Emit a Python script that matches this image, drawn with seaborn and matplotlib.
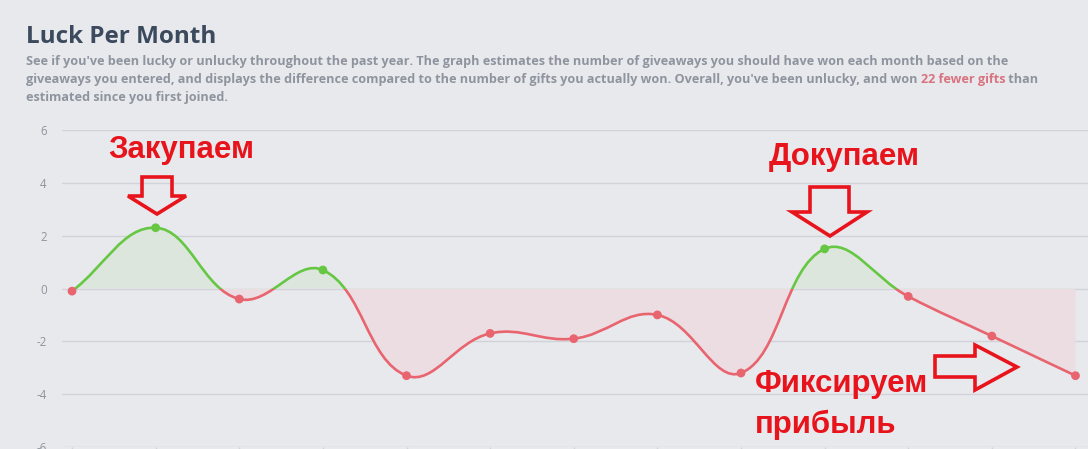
import numpy as np
import pandas as pd
import matplotlib
matplotlib.use("Agg")
import matplotlib.pyplot as plt
from matplotlib.path import Path
from matplotlib.patches import PathPatch, Rectangle, Polygon
import seaborn as sns

# ---------------- data ----------------
luck = [-0.1, 2.3, -0.4, 0.7, -3.3, -1.7, -1.9, -1.0, -3.2, 1.5, -0.3, -1.8, -3.3]
y_ticks = [-6, -4, -2, 0, 2, 4, 6]

title = "Luck Per Month"
sub_line1 = ("See if you've been lucky or unlucky throughout the past year. The graph estimates "
             "the number of giveaways you should have won each month based on the")
sub_line2a = ("giveaways you entered, and displays the difference compared to the number of gifts "
              "you actually won. Overall, you've been unlucky, and won ")
sub_line2b = "22 fewer gifts"
sub_line2c = " than"
sub_line3 = "estimated since you first joined."

note_buy = "Закупаем"
note_add = "Докупаем"
note_fix1 = "Фиксируем"
note_fix2 = "прибыль"

# ---------------- style ----------------
BG = "#e8e9ed"
GRID = "#d1d3d9"
GREEN = "#66c743"
RED = "#e8646f"
GREEN_FILL = "#dde6dc"
RED_FILL = "#ebdde2"
ANN = "#e8141c"

sns.set_theme(style="white", rc={"figure.facecolor": BG, "axes.facecolor": BG})
plt.rcParams["font.family"] = ["Open Sans", "DejaVu Sans"]

W, H = 1088, 449
fig = plt.figure(figsize=(W / 100, H / 100), dpi=100)

def fx(px):
    return px / W

def fy(py):
    return 1 - py / H

ax = fig.add_axes([fx(62), fy(447), fx(1088) - fx(62), fy(130) - fy(447)])
ax.set_facecolor(BG)
x = np.arange(len(luck))
y = np.array(luck)
ax.set_xlim(-0.12, 12.15)
ax.set_ylim(-6, 6)

# smooth line (Chart.js-style bezier, tension 0.4) computed in display space
pts = ax.transData.transform(np.column_stack([x, y]))
n = len(pts)
tension = 0.4
cp_prev = np.zeros_like(pts)
cp_next = np.zeros_like(pts)
for i in range(n):
    prev = pts[i - 1] if i > 0 else pts[i]
    cur = pts[i]
    nxt = pts[i + 1] if i < n - 1 else pts[i]
    d01 = np.hypot(*(cur - prev))
    d12 = np.hypot(*(nxt - cur))
    s = d01 + d12
    s01 = d01 / s if s else 0
    s12 = d12 / s if s else 0
    cp_prev[i] = cur - tension * s01 * (nxt - prev)
    cp_next[i] = cur + tension * s12 * (nxt - prev)
verts = [pts[0]]
codes = [Path.MOVETO]
for i in range(n - 1):
    verts += [cp_next[i], cp_prev[i + 1], pts[i + 1]]
    codes += [Path.CURVE4] * 3
vd = ax.transData.inverted().transform(np.array(verts))
line_path = Path(vd, codes)
fill_path = Path(np.vstack([vd, [[x[-1], 0], [x[0], 0], [x[0], y[0]]]]),
                 codes + [Path.LINETO, Path.LINETO, Path.CLOSEPOLY])

x0, x1 = ax.get_xlim()
above = Rectangle((x0, 0), x1 - x0, 10, transform=ax.transData)
below = Rectangle((x0, -10), x1 - x0, 10, transform=ax.transData)

for clip, fc in [(above, GREEN_FILL), (below, RED_FILL)]:
    p = PathPatch(fill_path, facecolor=fc, edgecolor="none", zorder=1)
    ax.add_patch(p)
    p.set_clip_path(clip)
for clip, ec in [(above, GREEN), (below, RED)]:
    p = PathPatch(line_path, facecolor="none", edgecolor=ec, lw=1.9, zorder=3,
                  capstyle="round")
    ax.add_patch(p)
    p.set_clip_path(clip)

df = pd.DataFrame({"idx": x, "luck": y,
                   "sign": np.where(y >= 0, "lucky", "unlucky")})
sns.scatterplot(data=df, x="idx", y="luck", hue="sign",
                palette={"lucky": GREEN, "unlucky": RED}, s=40,
                edgecolor="none", legend=False, ax=ax, zorder=4)

ax.set_yticks(y_ticks)
ax.set_yticklabels([str(v) for v in y_ticks])
ax.set_xticks(x)
ax.set_xticklabels([])
ax.set_xlabel("")
ax.set_ylabel("")
ax.grid(axis="y", color=GRID, lw=1)
ax.set_axisbelow(True)
for sp in ax.spines.values():
    sp.set_visible(False)
ax.tick_params(axis="y", length=0, pad=11, labelsize=8.3, labelcolor="#8e939c")
ax.tick_params(axis="x", length=6, width=1, color=GRID, direction="out", bottom=True)

# ---------------- header ----------------
fig.text(fx(26), fy(43), title, fontsize=17.5, fontweight="bold",
         color="#3c4a5d", va="baseline", ha="left")
sub_kw = dict(fontsize=9.1, fontweight="bold", color="#8e949e")
fig.text(fx(26), fy(65), sub_line1, ha="left", va="baseline", **sub_kw)
t2 = fig.text(fx(26), fy(83), sub_line2a, ha="left", va="baseline", **sub_kw)
a = ax.annotate(sub_line2b, xy=(1, 0), xycoords=t2, va="bottom", ha="left",
                fontsize=9.1, fontweight="bold", color="#d9737f",
                annotation_clip=False)
ax.annotate(sub_line2c, xy=(1, 0), xycoords=a, va="bottom", ha="left",
            annotation_clip=False, **sub_kw)
fig.text(fx(26), fy(101), sub_line3, ha="left", va="baseline", **sub_kw)

# ---------------- annotations ----------------
ann_kw = dict(fontsize=22.5, fontweight="bold", color=ANN, va="baseline",
              family=["Liberation Sans", "DejaVu Sans"])
fig.text(fx(181), fy(158), note_buy, ha="center", **ann_kw)
fig.text(fx(844), fy(165), note_add, ha="center", **ann_kw)
fig.text(fx(755), fy(392), note_fix1, ha="left", **ann_kw)
fig.text(fx(755), fy(433), note_fix2, ha="left", **ann_kw)

def arrow(points):
    xy = [(fx(px), fy(py)) for px, py in points]
    fig.patches.append(Polygon(xy, closed=True, fill=False, edgecolor=ANN, lw=2.6,
                               joinstyle="miter", transform=fig.transFigure,
                               figure=fig, zorder=5))

arrow([(142, 177), (172, 177), (172, 196), (186, 196), (157, 214), (128, 196), (142, 196)])
arrow([(810, 187), (849, 187), (849, 212), (867, 212), (830, 236), (792, 212), (810, 212)])
arrow([(935, 356), (975, 356), (975, 345), (1017, 367), (975, 390), (975, 377), (935, 377)])

fig.savefig("out.png", dpi=100, facecolor=BG)
